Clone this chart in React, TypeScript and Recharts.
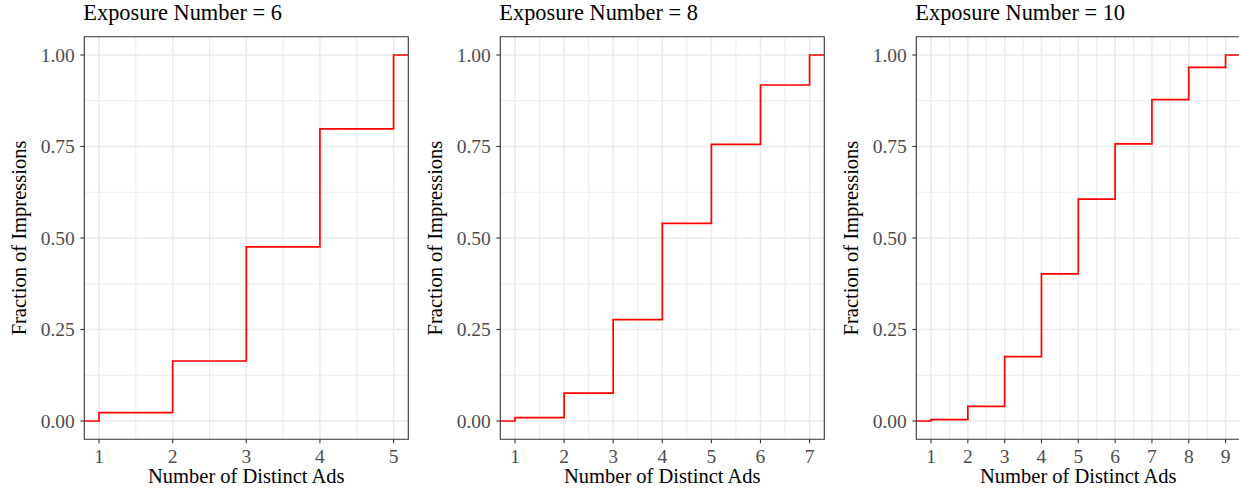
import React from 'react';
import { LineChart, Line, XAxis, YAxis, CartesianGrid, ReferenceArea } from 'recharts';

const TITLES = ['Exposure Number = 6', 'Exposure Number = 8', 'Exposure Number = 10'];
const ADS_6 = [1, 2, 3, 4, 5];
const FRAC_6 = [0.023, 0.164, 0.476, 0.798, 1.0];
const ADS_8 = [1, 2, 3, 4, 5, 6, 7];
const FRAC_8 = [0.009, 0.076, 0.277, 0.54, 0.756, 0.918, 1.0];
const ADS_10 = [1, 2, 3, 4, 5, 6, 7, 8, 9];
const FRAC_10 = [0.004, 0.04, 0.176, 0.402, 0.606, 0.757, 0.878, 0.966, 1.0];
const Y_TICKS = [0, 0.25, 0.5, 0.75, 1];
const Y_MINOR = [0.125, 0.375, 0.625, 0.875];
const X_LABEL = 'Number of Distinct Ads';
const Y_LABEL = 'Fraction of Impressions';

const FONT = '"Liberation Serif", "DejaVu Serif", serif';
const PANEL_W = 416;
const CHART_W = 420;
const H = 490;
const M = { top: 36.7, right: 11.7, bottom: 0, left: 0 };
const YAXIS_W = 84.3;
const XAXIS_H = 50.7;

function buildPanel(ads: number[], frac: number[]) {
  const lo = ads[0];
  const hi = ads[ads.length - 1];
  const pad = (hi - lo) * 0.05;
  const domain: [number, number] = [lo - pad, hi + pad];
  const table = [{ x: domain[0], y: 0 }]
    .concat(ads.map((a, i) => ({ x: a, y: frac[i] })))
    .concat([{ x: domain[1], y: frac[frac.length - 1] }]);
  const minor: number[] = [];
  for (let i = 0; i < ads.length - 1; i++) minor.push((ads[i] + ads[i + 1]) / 2);
  return { domain, table, ticks: ads, minor };
}

const PANELS = [buildPanel(ADS_6, FRAC_6), buildPanel(ADS_8, FRAC_8), buildPanel(ADS_10, FRAC_10)];
const Y_DOMAIN: [number, number] = [-0.05, 1.05];

function Panel({ idx }: { idx: number }) {
  const p = PANELS[idx];
  return (
    <div style={{ position: 'absolute', left: idx * PANEL_W, top: 0 }}>
      <LineChart width={CHART_W} height={H} data={p.table} margin={M}>
        <CartesianGrid
          stroke="#EBEBEB"
          strokeWidth={1.0}
          horizontalValues={Y_MINOR}
          verticalValues={p.minor}
        />
        <CartesianGrid
          stroke="#EBEBEB"
          strokeWidth={1.6}
          horizontalValues={Y_TICKS}
          verticalValues={p.ticks}
        />
        <XAxis
          dataKey="x"
          type="number"
          domain={p.domain}
          ticks={p.ticks}
          allowDataOverflow
          height={XAXIS_H}
          axisLine={false}
          tickLine={{ stroke: '#333333', strokeWidth: 1.1 }}
          tickSize={4}
          tickMargin={5.5}
          tick={{ fill: '#4D4D4D', fontSize: 19.5, fontFamily: FONT }}
          interval={0}
        />
        <YAxis
          type="number"
          domain={Y_DOMAIN}
          ticks={Y_TICKS}
          allowDataOverflow
          width={YAXIS_W}
          axisLine={false}
          tickLine={{ stroke: '#333333', strokeWidth: 1.1 }}
          tickSize={4}
          tickMargin={5.5}
          tickFormatter={(v: number) => v.toFixed(2)}
          tick={{ fill: '#4D4D4D', fontSize: 19.5, fontFamily: FONT }}
          interval={0}
        />
        <Line
          type="stepAfter"
          dataKey="y"
          stroke="#FF0000"
          strokeWidth={1.7}
          dot={false}
          isAnimationActive={false}
        />
        <ReferenceArea
          x1={p.domain[0]}
          x2={p.domain[1]}
          y1={Y_DOMAIN[0]}
          y2={Y_DOMAIN[1]}
          fill="none"
          fillOpacity={0}
          stroke="#333333"
          strokeWidth={1.1}
          strokeOpacity={1}
          ifOverflow="visible"
        />
      </LineChart>
    </div>
  );
}

export default function App() {
  const plotTop = M.top;
  const plotBottom = H - XAXIS_H;
  const plotLeft = YAXIS_W;
  const plotRight = CHART_W - M.right;
  const midY = (plotTop + plotBottom) / 2;
  const midX = (plotLeft + plotRight) / 2;
  return (
    <div style={{ position: 'absolute', left: 0, top: 0, width: 1239, height: H, overflow: 'hidden', background: '#fff' }}>
      {PANELS.map((_, i) => (
        <Panel key={i} idx={i} />
      ))}
      <svg width={1239} height={H} style={{ position: 'absolute', left: 0, top: 0, pointerEvents: 'none' }}>
        {TITLES.map((t, i) => {
          const off = i * PANEL_W;
          return (
            <g key={i} fontFamily={FONT} fill="#000">
              <text x={off + plotLeft - 1} y={19.5} fontSize={22.4}>{t}</text>
              <text x={off + midX} y={483} fontSize={20.5} textAnchor="middle">{X_LABEL}</text>
              <text
                x={off + 25.5}
                y={midY}
                fontSize={20.5}
                textAnchor="middle"
                transform={`rotate(-90, ${off + 25.5}, ${midY})`}
              >
                {Y_LABEL}
              </text>
            </g>
          );
        })}
      </svg>
    </div>
  );
}
